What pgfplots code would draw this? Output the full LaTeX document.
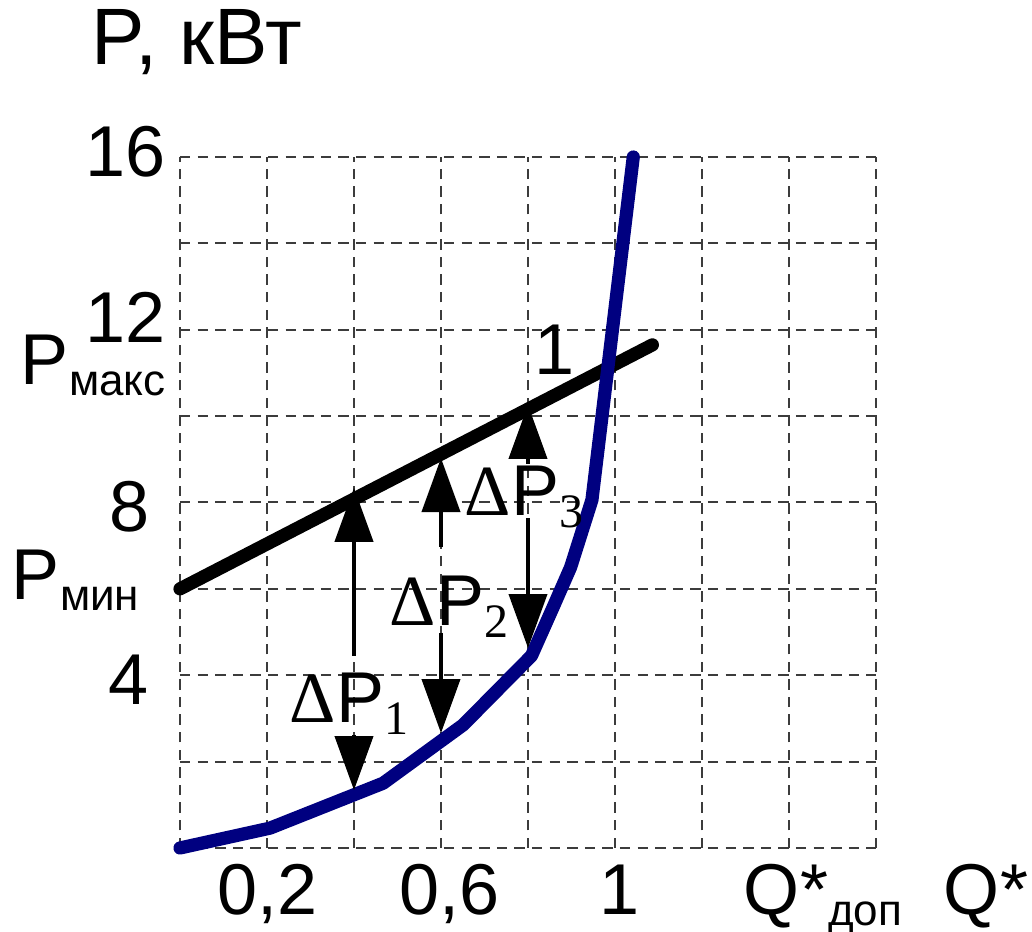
\documentclass[border=0pt]{standalone}
\usepackage{fontspec}
\setmainfont{Liberation Sans}
\newfontfamily\seriffont{Liberation Serif}
\usepackage{pgfplots}
\pgfplotsset{compat=1.18}
\usetikzlibrary{arrows.meta}
\definecolor{curveblue}{RGB}{0,0,128}
\definecolor{gridgray}{RGB}{60,60,60}

\newcommand{\dP}[1]{{\seriffont\char"0394}P\raisebox{-3pt}{\fontsize{12}{13}\selectfont\seriffont #1}}
\newcommand{\sub}[1]{\raisebox{-2.6pt}{\fontsize{11}{12}\selectfont #1}}

\begin{document}
\begin{tikzpicture}[font=\fontsize{18}{21}\selectfont,
  lbl/.style={inner sep=0pt, outer sep=0pt},
  arr/.style={black, line width=1pt, -{Triangle[length=13.5pt,width=9.5pt]}}]
\path[use as bounding box] (-45pt,-21pt) rectangle (213pt,212pt);
\begin{axis}[at={(0pt,0pt)}, anchor=south west, scale only axis,
  width=174pt, height=172.75pt,
  xmin=0, xmax=1.6, ymin=0, ymax=16,
  xtick={0,0.2,0.4,0.6,0.8,1,1.2,1.4,1.6},
  ytick={0,2,4,6,8,10,12,14,16},
  xticklabels={}, yticklabels={},
  major tick length=0pt, grid=major,
  major grid style={gridgray, line width=0.5pt, dash pattern=on 2.6pt off 1.8pt},
  axis line style={draw=none}, clip=false]
\addplot[black, line width=3.3pt, line cap=round] coordinates {(0,6) (1.086,11.65)};
\addplot[curveblue, line width=3.3pt, line cap=round, line join=round] coordinates {
  (0,0) (0.207,0.46) (0.467,1.50) (0.651,2.85) (0.808,4.45) (0.858,5.58)
  (0.898,6.5) (0.947,8.06) (1.042,16)};
% arrows Delta P1
\addplot[arr] coordinates {(0.4,4.45) (0.4,8.34)};
\addplot[arr] coordinates {(0.4,2.62) (0.4,1.34)};
% arrows Delta P2
\addplot[arr] coordinates {(0.6,6.97) (0.6,9.03)};
\addplot[arr] coordinates {(0.6,4.98) (0.6,2.66)};
% arrows Delta P3
\addplot[arr] coordinates {(0.8,8.9) (0.8,10.26)};
\addplot[arr] coordinates {(0.8,7.64) (0.8,4.63)};
\end{axis}
% axis titles and labels
\node[lbl, anchor=base west, font=\fontsize{20}{23}\selectfont] at (-22pt,195.75pt) {P, кВт};
\node[lbl, anchor=base east] at (-3.5pt,167.75pt) {16};
\node[lbl, anchor=base east] at (-3.5pt,126.25pt) {12};
\node[lbl, anchor=base east] at (-7.5pt,79pt) {8};
\node[lbl, anchor=base east] at (-7.75pt,35.75pt) {4};
\node[lbl, anchor=base west] at (-39.75pt,115.75pt) {P\sub{макс}};
\node[lbl, anchor=base west] at (-42pt,62pt) {P\sub{мин}};
\node[lbl, anchor=base] at (22pt,-16.75pt) {0,2};
\node[lbl, anchor=base] at (67.5pt,-16.75pt) {0,6};
\node[lbl, anchor=base] at (110pt,-16.75pt) {1};
\node[lbl, anchor=base west] at (141pt,-16.75pt) {Q*\sub{доп}};
\node[lbl, anchor=base west] at (191pt,-16.75pt) {Q*};
\node[lbl, anchor=base] at (93.75pt,118.25pt) {1};
\node[lbl, anchor=base west] at (27.5pt,31.25pt) {\dP{1}};
\node[lbl, anchor=base west] at (52.5pt,55.5pt) {\dP{2}};
\node[lbl, anchor=base west] at (71.25pt,83pt) {\dP{3}};
\end{tikzpicture}
\end{document}
